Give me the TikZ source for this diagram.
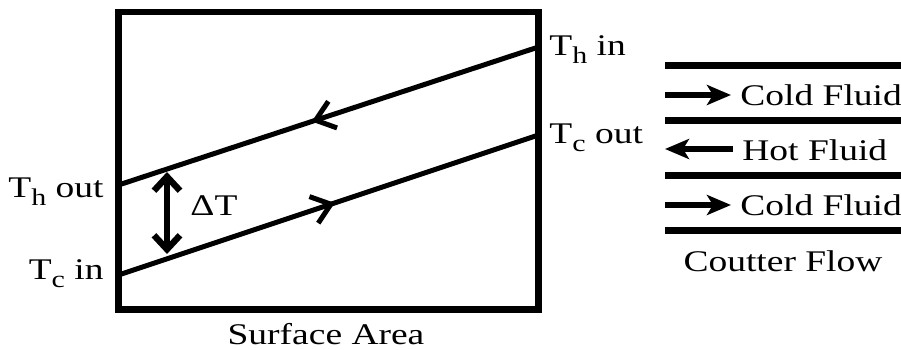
\documentclass[tikz,border=0pt]{standalone}
\usepackage{fontspec}
\setmainfont{Liberation Serif}[FakeStretch=1.25]
\usetikzlibrary{arrows.meta,positioning,decorations.markings}
\newcommand{\lowsub}[1]{\raisebox{-4.3pt}{\fontsize{12}{13}\selectfont #1}}

\begin{document}
\begin{tikzpicture}[x=0.5pt,y=-0.5pt,every node/.style={font=\fontsize{15}{18}\selectfont,inner sep=0pt},wall/.style={line width=3.3pt},tline/.style={line width=2.5pt,postaction={decorate,decoration={markings,mark=at position #1 with {\arrow{Straight Barb[length=9pt,width=14pt]}}}}},dtarrow/.style={line width=3.2pt,{Straight Barb[length=7pt,width=13pt]}-{Straight Barb[length=7pt,width=13pt]}},pipe/.style={line width=3.2pt},flowarr/.style={line width=3.2pt,-{Stealth[length=12pt,width=10pt,inset=3pt]}}]
  \useasboundingbox (0,0) rectangle (901,349);
  % exchanger box
  \draw[wall] (118.5,12) rectangle (538.5,309.5);
  \coordinate (hin) at (538.5,47);
  \coordinate (hout) at (118.5,185);
  \coordinate (cin) at (118.5,275);
  \coordinate (cout) at (538.5,135);
  \draw[tline=0.54] (hin) -- (hout);
  \draw[tline=0.515] (cin) -- (cout);
  \node[anchor=base west] (thin) at (549,55) {T\lowsub{h} in};
  \node[anchor=base west] (tcout) at (549,143) {T\lowsub{c} out};
  \node[anchor=base east] (thout) at (104,197) {T\lowsub{h} out};
  \node[anchor=base east] (tcin) at (104,279) {T\lowsub{c} in};
  % temperature difference
  \coordinate (dtop) at (167,172);
  \coordinate (dbot) at (167,254);
  \draw[dtarrow] (dtop) -- (dbot);
  \node[anchor=base west] (dt) at (190,215) {ΔT};
  \node (area) at (326,334) {Surface Area};
  % flow legend
  \foreach \y in {65.5,120.5,175.5,230.5}{\draw[pipe] (665,\y) -- (901,\y);}
  \coordinate (c1a) at (665,95);
  \coordinate (c1b) at (731,95);
  \coordinate (ha) at (733,149);
  \coordinate (hb) at (665,149);
  \coordinate (c2a) at (665,205);
  \coordinate (c2b) at (731,205);
  \draw[flowarr] (c1a) -- (c1b);
  \draw[flowarr] (ha) -- (hb);
  \draw[flowarr] (c2a) -- (c2b);
  \node[anchor=west] (cold1) at (740,95) {Cold Fluid};
  \node[anchor=west] (hot) at (742,150) {Hot Fluid};
  \node[anchor=west] (cold2) at (740,205) {Cold Fluid};
  \node (flow) at (783,261) {Coutter Flow};
\end{tikzpicture}
\end{document}
